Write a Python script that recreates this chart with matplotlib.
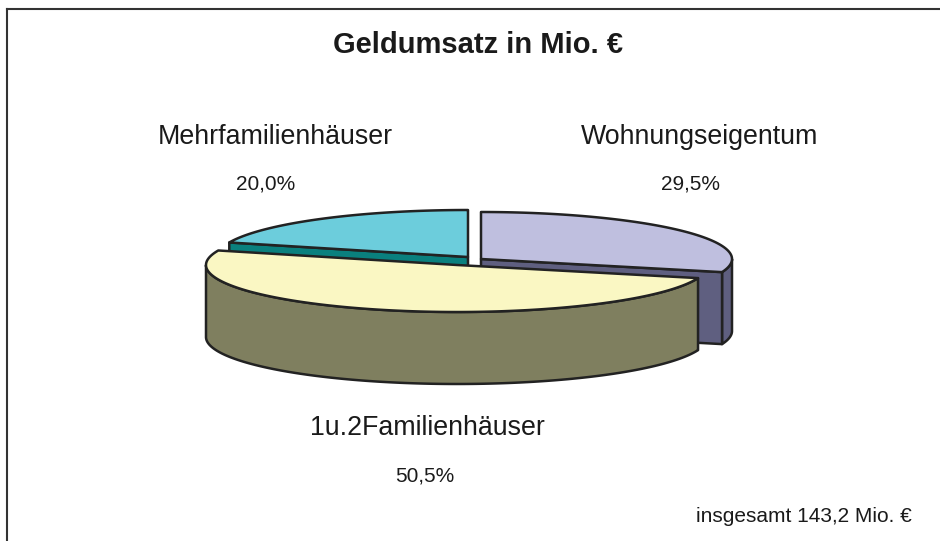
import numpy as np
import matplotlib.pyplot as plt
from matplotlib.patches import Polygon

# daten
categories = ['Wohnungseigentum', '1u.2Familienhäuser', 'Mehrfamilienhäuser']
shares = [29.5, 50.5, 20.0]
pct_labels = ['29,5%', '50,5%', '20,0%']
title = 'Geldumsatz in Mio. €'
total_note = 'insgesamt 143,2 Mio. €'

top_colors = ['#bfbfdf', '#faf7c3', '#6ccddc']
side_colors = ['#5f5f80', '#7f7f5f', '#0a807e']
edge = '#222222'

# geometrie (pixel)
cx, cy = 470, 260
rx, ry = 251, 47
depth = 72
offsets = [(11, -1), (-13, 5), (-2, -3)]
label_pos = [(700, 137), (427, 428), (275, 137)]
pct_pos = [(690, 184), (425, 476), (266, 184)]

plt.rcParams['font.family'] = ['Liberation Sans', 'DejaVu Sans']
fig = plt.figure(figsize=(9.4, 5.41), dpi=100)
ax = fig.add_axes([0, 0, 1, 1])
ax.set_xlim(0, 940)
ax.set_ylim(541, 0)
ax.axis('off')


def pt(x0, y0, t, dz=0):
    return x0 + rx * np.cos(t), y0 - ry * np.sin(t) + dz


# winkel: start oben, im uhrzeigersinn
slices = []
start = 90.0
for i, s in enumerate(shares):
    end = start - s * 3.6
    slices.append((i, np.radians(end), np.radians(start)))
    start = end

# hintere stuecke zuerst
order = sorted(slices, key=lambda a: -np.sin((a[1] + a[2]) / 2))

for i, t1, t2 in order:
    x0, y0 = cx + offsets[i][0], cy + offsets[i][1]
    # aussenseite vorne
    ts = np.linspace(t1, t2, 200)
    vis = np.sin(ts) < 0
    if vis.any():
        tv = ts[vis]
        xs, ys = pt(x0, y0, tv)
        poly = list(zip(xs, ys)) + list(zip(xs[::-1], ys[::-1] + depth))
        ax.add_patch(Polygon(poly, closed=True, fc=side_colors[i], ec=edge, lw=1.8, joinstyle='round'))
    # schnittflaechen
    for t, show in ((t1, np.cos(t1) > 1e-6), (t2, np.cos(t2) < -1e-6)):
        if show:
            rxp, ryp = pt(x0, y0, t)
            poly = [(x0, y0), (rxp, ryp), (rxp, ryp + depth), (x0, y0 + depth)]
            ax.add_patch(Polygon(poly, closed=True, fc=side_colors[i], ec=edge, lw=1.8, joinstyle='round'))
    # deckel
    xs, ys = pt(x0, y0, ts)
    poly = [(x0, y0)] + list(zip(xs, ys))
    ax.add_patch(Polygon(poly, closed=True, fc=top_colors[i], ec=edge, lw=1.8, joinstyle='round'))

for i, name in enumerate(categories):
    ax.text(*label_pos[i], name, fontsize=19.3, ha='center', va='center', color='#1a1a1a')
    ax.text(*pct_pos[i], pct_labels[i], fontsize=15, ha='center', va='center', color='#1a1a1a')

ax.text(478, 45, title, fontsize=21, fontweight='bold', ha='center', va='center', color='#1a1a1a')
ax.text(912, 516, total_note, fontsize=15, ha='right', va='center', color='#1a1a1a')

# rahmen
ax.plot([7, 7], [541, 9], color='#333333', lw=1.5)
ax.plot([7, 940], [9, 9], color='#333333', lw=1.5)

fig.savefig('out.png', dpi=100)
